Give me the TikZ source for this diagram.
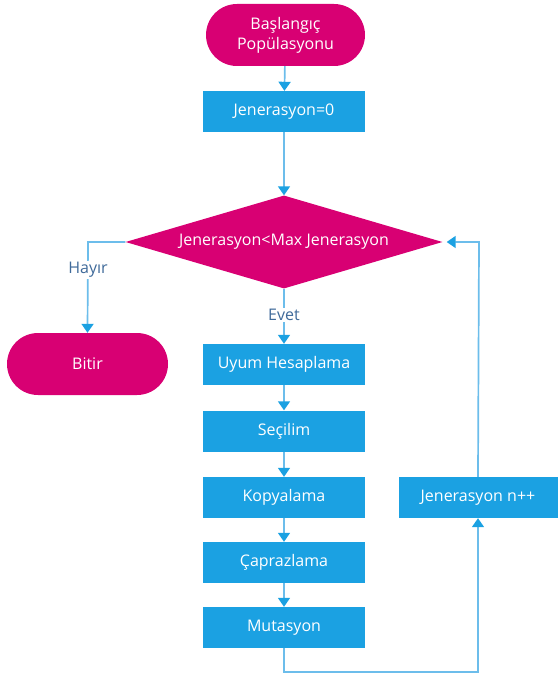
\documentclass[tikz,border=0pt]{standalone}
\usepackage{fontspec}
\setmainfont{Open Sans}
\usetikzlibrary{arrows.meta,shapes.geometric}
\definecolor{mag}{HTML}{D80073}
\definecolor{blu}{HTML}{1BA1E2}
\definecolor{lineblu}{HTML}{6CBDEB}
\definecolor{lbl}{HTML}{3F6A9A}
\tikzset{
  txt/.style={text=white,font=\fontsize{16}{20}\selectfont,align=center,inner sep=0pt},
  procbox/.style={txt,fill=blu,minimum width=162pt,minimum height=41pt},
  termbox/.style={txt,fill=mag,rounded corners=31pt,minimum width=159pt,minimum height=62pt},
  decbox/.style={txt,fill=mag,diamond,shape aspect=3.4,minimum width=317pt,minimum height=93pt},
  conn/.style={draw=lineblu,line width=1.7pt,-{Triangle[width=12pt,length=9pt,color=blu]}},
  lab/.style={fill=white,text=lbl,font=\fontsize{16}{18}\selectfont,inner sep=1.5pt}
}
\begin{document}
\begin{tikzpicture}[x=1pt,y=-1pt]
\useasboundingbox (0,0) rectangle (558,677);
\node[termbox] (start) at (285.5,35) {Başlangıç\\Popülasyonu};
\node[procbox] (init) at (284,111.5) {Jenerasyon=0};
\node[decbox] (cond) at (284,242) {Jenerasyon<Max Jenerasyon};
\node[termbox,minimum width=161pt] (stop) at (87.5,364) {Bitir};
\node[procbox] (uyum) at (284,364.5) {Uyum Hesaplama};
\node[procbox] (sec) at (284,431) {Seçilim};
\node[procbox] (kop) at (284,497.5) {Kopyalama};
\node[procbox] (cap) at (284,562.5) {Çaprazlama};
\node[procbox] (mut) at (284,627.5) {Mutasyon};
\node[procbox,minimum width=159pt] (jen) at (478,497.5) {Jenerasyon n++};
\coordinate (bot) at (284,672);
\coordinate (hay) at (88,242);
\coordinate (ret) at (479,242);

\draw[conn] (start) -- (init);
\draw[conn] (init) -- (cond);
\draw[conn] (cond.west) -- (hay) -- (stop.north);
\node[lab] (hayir) at (88,270) {Hayır};
\draw[conn] (cond.south) -- (uyum.north);
\node[lab] (evet) at (284,315) {Evet};
\draw[conn] (uyum) -- (sec);
\draw[conn] (sec) -- (kop);
\draw[conn] (kop) -- (cap);
\draw[conn] (cap) -- (mut);
\draw[conn] (mut.south) -- (bot) -| (jen.south);
\draw[conn,shorten >=4pt] (jen.north) -- (ret) -- (cond.east);
\end{tikzpicture}
\end{document}
